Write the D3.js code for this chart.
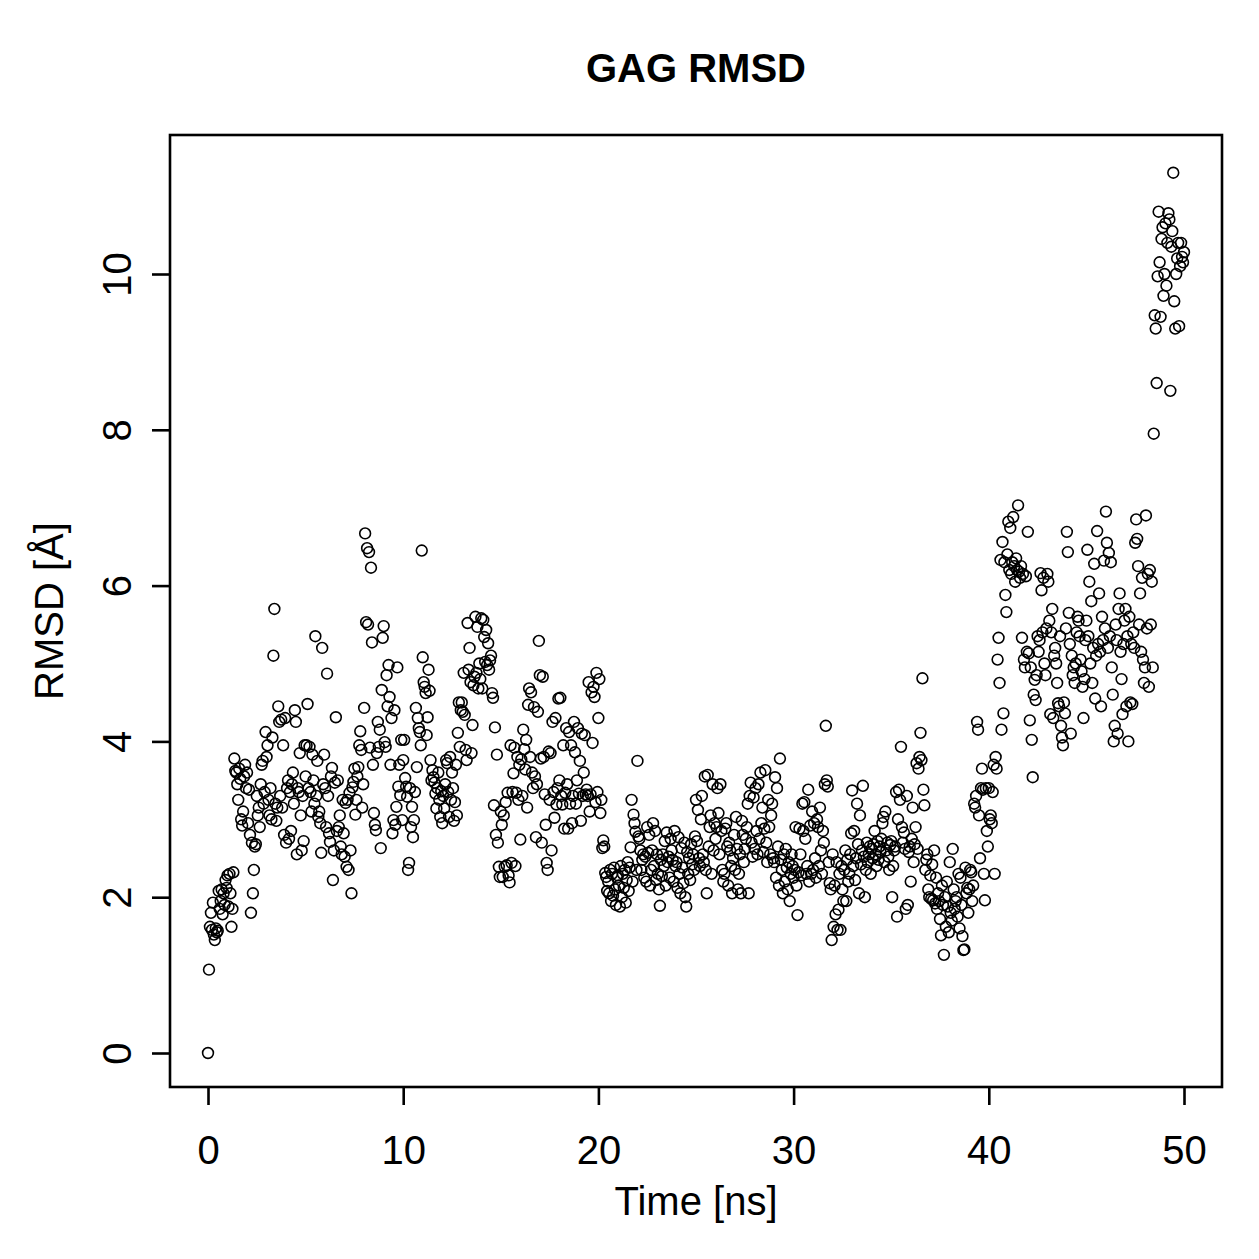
<!DOCTYPE html>
<html>
<head>
<meta charset="utf-8">
<script src="https://cdn.jsdelivr.net/npm/d3@7"></script>
<style>
  html, body { margin: 0; padding: 0; background: #fff; }
  text { font-family: "Liberation Sans", Arial, Helvetica, sans-serif; fill: #000; }
</style>
</head>
<body>
<svg id="chart" width="1259" height="1259"></svg>
<script>
// ---- Data (RMSD in Å, sampled every 0.05 ns) ----
const TIME_STEP = 0.05;
const rmsd00to05 = [
  0, 1.07, 1.62, 1.80, 1.58, 1.93, 1.52, 1.45, 1.60, 1.55, 1.57, 2.08, 1.85, 1.95, 2.10, 1.78, 2.05, 1.90, 2.22, 2.12,
  2.28, 1.88, 2.30, 2.05, 1.62, 1.85, 2.32, 3.78, 3.62, 3.60, 3.45, 3.25, 3.65, 3.52, 3.00, 2.92, 3.10, 3.55, 3.70, 3.40,
  3.60, 2.95, 3.38, 2.80, 1.80, 2.70, 2.05, 2.35, 2.65, 2.68, 3.30, 3.05, 3.15, 2.90, 3.45, 3.70, 3.75, 3.20, 3.35, 4.12,
  3.80, 3.95, 3.25, 3.05, 3.40, 3.00, 4.05, 5.10, 5.70, 3.20, 2.98, 3.15, 4.45, 4.25, 3.30, 4.28, 3.15, 3.95, 2.80, 4.30,
  2.70, 3.40, 3.50, 2.75, 3.35, 2.85, 3.45, 3.60, 3.20, 4.40, 4.25, 2.55, 3.40, 3.35, 3.85, 3.05, 2.60, 3.30, 2.72, 3.95
];
const rmsd05to10 = [
  3.55, 3.95, 4.48, 3.40, 3.93, 3.35, 3.10, 3.83, 3.50, 3.20, 5.35, 3.30, 3.75, 3.03, 3.10, 2.95, 2.57, 5.20, 3.45, 3.83,
  3.40, 2.90, 4.87, 3.30, 2.82, 2.71, 3.55, 3.66, 2.22, 2.60, 3.47, 4.31, 2.85, 3.50, 2.90, 3.05, 2.65, 2.55, 3.25, 2.82,
  2.52, 3.21, 2.39, 3.25, 2.35, 3.34, 2.60, 2.05, 3.41, 3.48, 3.65, 3.06, 3.25, 3.55, 3.67, 3.95, 4.13, 3.89, 3.15, 3.45,
  4.43, 6.67, 5.53, 6.48, 5.50, 6.43, 3.92, 6.23, 5.27, 3.70, 3.08, 2.93, 2.86, 3.85, 4.25, 3.93, 4.15, 2.63, 4.66, 5.33,
  5.48, 3.99, 3.93, 4.85, 4.45, 4.98, 4.57, 3.70, 4.30, 2.82, 2.99, 4.40, 2.93, 3.16, 4.95, 3.42, 3.70, 3.31, 4.02, 2.99
];
const rmsd10to15 = [
  3.76, 4.02, 3.53, 3.42, 3.29, 2.35, 2.44, 3.40, 2.90, 3.16, 2.77, 2.99, 3.35, 4.43, 3.67, 4.30, 4.17, 4.12, 3.95, 6.45,
  5.08, 4.76, 4.70, 4.62, 4.08, 4.31, 4.92, 4.65, 3.76, 3.50, 3.63, 3.54, 3.47, 3.33, 3.14, 3.40, 3.60, 3.25, 3.03, 3.36,
  2.95, 3.30, 3.14, 3.45, 3.76, 3.72, 3.35, 3.03, 3.80, 3.25, 3.60, 3.40, 2.98, 3.22, 3.70, 3.05, 4.11, 4.50, 3.93, 4.40,
  4.50, 4.38, 4.88, 4.34, 3.89, 3.76, 5.52, 4.92, 5.20, 4.76, 3.85, 4.21, 4.72, 4.83, 5.60, 4.88, 5.47, 4.68, 5.00, 4.80,
  5.58, 4.68, 5.56, 5.34, 5.02, 5.43, 4.98, 5.26, 4.92, 5.04, 5.10, 4.62, 4.56, 3.18, 4.18, 2.80, 3.83, 2.70, 2.39, 2.26
];
const rmsd15to20 = [
  3.10, 2.93, 2.26, 3.05, 2.39, 3.22, 2.41, 3.34, 2.28, 2.19, 3.95, 2.44, 3.35, 3.59, 3.92, 2.40, 3.34, 3.80, 3.25, 3.70,
  2.74, 3.77, 3.30, 4.15, 3.90, 3.64, 4.02, 3.15, 4.47, 4.68, 3.80, 4.63, 3.60, 3.40, 4.44, 3.55, 2.77, 3.45, 4.38, 5.29,
  4.85, 3.78, 2.70, 4.83, 3.80, 3.32, 2.93, 2.44, 2.35, 3.87, 3.25, 3.85, 2.60, 4.25, 3.35, 3.02, 4.30, 3.19, 3.40, 4.55,
  3.50, 4.56, 3.30, 3.19, 3.95, 2.88, 3.34, 4.17, 3.45, 2.88, 4.12, 3.20, 3.95, 2.95, 3.30, 4.25, 3.86, 3.20, 3.50, 4.17,
  3.33, 3.75, 2.98, 4.10, 3.30, 3.60, 4.08, 3.32, 3.38, 3.30, 4.76, 3.10, 3.32, 4.63, 3.98, 4.70, 4.57, 3.22, 4.88, 3.35
];
const rmsd20to25 = [
  4.30, 4.80, 3.08, 3.25, 2.63, 2.73, 2.65, 2.31, 2.26, 2.08, 2.20, 2.05, 2.35, 1.95, 2.30, 2.02, 2.38, 2.10, 1.90, 2.25,
  2.28, 2.15, 1.88, 2.40, 2.00, 2.30, 2.12, 2.35, 1.93, 2.22, 2.45, 2.08, 2.38, 2.64, 3.25, 2.20, 3.06, 2.95, 2.84, 2.35,
  3.75, 2.78, 2.75, 2.60, 2.35, 2.48, 2.55, 2.25, 2.52, 2.20, 2.90, 2.57, 2.80, 2.15, 2.35, 2.60, 2.95, 2.40, 2.85, 2.22,
  2.55, 2.30, 2.10, 1.89, 2.48, 2.27, 2.55, 2.40, 2.72, 2.15, 2.83, 2.45, 2.52, 2.25, 2.75, 2.60, 2.48, 2.20, 2.85, 2.40,
  2.45, 2.12, 2.77, 2.30, 2.05, 2.63, 2.38, 2.18, 2.70, 2.00, 1.88, 2.58, 2.30, 2.50, 2.22, 2.68, 2.42, 2.55, 2.35, 2.78
];
const rmsd25to30 = [
  3.25, 2.72, 3.12, 2.50, 2.40, 3.00, 3.30, 2.55, 2.45, 3.55, 2.35, 2.05, 3.57, 2.65, 2.90, 3.05, 2.30, 3.45, 2.60, 2.95,
  2.75, 2.90, 3.40, 3.08, 2.55, 3.45, 2.85, 2.35, 2.20, 2.30, 2.88, 2.95, 2.65, 2.15, 2.70, 2.60, 2.40, 2.05, 2.50, 2.80,
  2.35, 3.03, 2.62, 2.10, 2.30, 2.55, 2.05, 2.98, 2.80, 2.45, 2.62, 2.75, 2.90, 3.20, 2.05, 3.30, 3.47, 2.70, 2.52, 3.28,
  2.62, 3.40, 2.85, 2.55, 3.45, 2.75, 3.60, 2.95, 3.15, 2.58, 2.88, 3.63, 2.70, 2.45, 3.25, 2.90, 2.55, 3.05, 3.20, 2.50,
  2.45, 3.54, 2.25, 3.40, 2.65, 2.15, 3.78, 2.48, 2.35, 2.05, 2.55, 2.20, 2.62, 2.38, 2.10, 2.45, 1.95, 2.30, 2.55, 2.40
];
const rmsd30to35 = [
  2.25, 2.35, 2.90, 2.15, 1.77, 2.32, 2.88, 2.55, 2.28, 3.20, 2.85, 3.22, 2.75, 2.30, 2.40, 3.38, 2.20, 2.92, 2.30, 3.10,
  2.35, 2.95, 2.50, 2.25, 3.00, 2.90, 2.40, 3.15, 2.60, 2.30, 2.85, 2.70, 3.45, 4.20, 3.50, 3.42, 2.45, 2.18, 2.10, 1.45,
  2.55, 1.62, 2.15, 1.78, 2.45, 1.58, 1.84, 2.30, 1.58, 2.40, 2.10, 1.95, 2.35, 2.60, 1.95, 2.48, 2.20, 2.30, 2.55, 2.82,
  3.37, 2.40, 2.85, 2.22, 2.50, 3.20, 2.68, 2.05, 3.05, 2.42, 2.60, 3.43, 2.52, 2.00, 2.35, 2.70, 2.45, 2.55, 2.65, 2.30,
  2.62, 2.50, 2.68, 2.85, 2.55, 2.40, 2.72, 2.48, 2.65, 2.58, 2.75, 2.95, 3.03, 2.45, 3.10, 2.60, 2.70, 2.52, 2.35, 2.67
];
const rmsd35to40 = [
  2.72, 2.00, 2.40, 2.60, 2.65, 3.35, 1.75, 3.00, 3.38, 3.25, 3.93, 2.90, 2.70, 2.83, 2.62, 1.85, 3.30, 1.90, 2.58, 2.65,
  2.20, 2.75, 3.15, 2.45, 2.68, 2.90, 3.72, 2.62, 3.65, 3.80, 4.11, 3.76, 4.81, 3.38, 3.18, 2.35, 2.48, 2.55, 2.10, 2.00,
  2.28, 1.98, 2.42, 1.96, 2.60, 1.92, 2.25, 1.85, 2.05, 1.95, 1.72, 1.51, 2.15, 1.90, 1.26, 2.00, 1.62, 2.20, 1.88, 1.55,
  2.45, 1.80, 1.70, 2.62, 2.10, 1.85, 1.95, 2.00, 1.75, 2.30, 1.60, 2.25, 1.90, 1.50, 1.32, 1.33, 2.38, 2.05, 2.12, 1.80,
  2.10, 2.35, 2.32, 1.95, 2.15, 3.20, 3.15, 3.30, 4.25, 4.15, 3.05, 2.50, 3.40, 3.65, 3.38, 2.30, 1.96, 3.40, 2.85, 2.65
];
const rmsd40to45 = [
  3.40, 3.00, 3.05, 2.95, 3.35, 3.70, 2.30, 3.80, 3.65, 5.05, 5.33, 4.75, 6.33, 4.15, 6.56, 4.36, 6.30, 5.88, 5.66, 6.40,
  6.82, 6.20, 6.74, 6.15, 6.30, 6.88, 6.25, 6.05, 6.35, 6.20, 7.03, 6.18, 6.10, 6.25, 5.33, 6.15, 5.05, 4.95, 6.12, 5.15,
  6.69, 5.13, 4.27, 4.95, 4.02, 3.54, 4.60, 4.79, 4.53, 4.85, 5.35, 5.15, 5.30, 6.16, 5.94, 5.40, 6.10, 5.00, 4.85, 5.45,
  6.15, 6.05, 5.55, 4.35, 5.40, 5.70, 4.30, 5.10, 5.20, 5.00, 4.75, 4.49, 4.45, 5.35, 4.20, 4.05, 3.95, 4.50, 4.36, 5.45,
  6.69, 6.43, 5.65, 5.25, 4.10, 5.10, 4.85, 4.95, 4.75, 5.00, 5.40, 5.60, 5.55, 5.35, 5.05, 4.90, 4.70, 4.30, 4.80, 5.30
];
const rmsd45to50 = [
  5.55, 6.46, 5.35, 6.05, 5.00, 5.80, 4.75, 5.20, 6.28, 4.55, 5.10, 6.70, 5.25, 5.90, 5.15, 4.45, 5.60, 5.30, 6.32, 5.45,
  6.95, 6.55, 5.20, 6.42, 5.35, 6.30, 4.95, 4.60, 4.00, 4.20, 5.50, 5.30, 4.10, 5.70, 5.90, 5.15, 4.80, 4.35, 5.25, 5.55,
  5.70, 4.45, 5.35, 4.00, 5.60, 4.50, 5.25, 4.48, 5.40, 5.20, 6.55, 6.85, 6.60, 6.25, 5.50, 5.90, 5.15, 6.10, 5.05, 4.75,
  4.95, 6.90, 5.45, 6.15, 4.70, 6.20, 5.50, 6.05, 4.95, 7.95, 9.47, 9.30, 8.60, 9.97, 10.80, 10.15, 9.45, 10.45, 10.60, 9.72,
  10.00, 10.65, 9.85, 10.40, 10.78, 10.70, 8.50, 10.35, 10.55, 11.30, 9.65, 9.30, 10.00, 10.20, 10.40, 9.33, 10.10, 10.40, 10.22, 10.15,
  10.28
];
const xTicks = [0, 10, 20, 30, 40, 50];
const yTicks = [0, 2, 4, 6, 8, 10];
const titleText = "GAG RMSD";
const xLabelText = "Time [ns]";
const yLabelText = "RMSD [Å]";

const rmsd = [].concat(rmsd00to05, rmsd05to10, rmsd10to15, rmsd15to20, rmsd20to25,
                       rmsd25to30, rmsd30to35, rmsd35to40, rmsd40to45, rmsd45to50);
const points = rmsd.map((v, i) => ({ t: +(i * TIME_STEP).toFixed(2), v }));

// ---- Layout ----
const svg = d3.select("#chart");
svg.append("rect").attr("width", 1259).attr("height", 1259).attr("fill", "#fff");

const box = { left: 170, right: 1222, top: 135, bottom: 1087 };
const x = d3.scaleLinear().domain([0, 50]).range([208, 1184]);
const y = d3.scaleLinear().domain([0, 10]).range([1053, 274]);

const LW = 2.6;
const FS = 40;

// points
svg.append("g")
  .selectAll("circle")
  .data(points)
  .join("circle")
  .attr("cx", d => x(d.t))
  .attr("cy", d => y(d.v))
  .attr("r", 5.4)
  .attr("fill", "none")
  .attr("stroke", "#000")
  .attr("stroke-width", 1.6);

// box
svg.append("rect")
  .attr("x", box.left).attr("y", box.top)
  .attr("width", box.right - box.left).attr("height", box.bottom - box.top)
  .attr("fill", "none").attr("stroke", "#000").attr("stroke-width", LW);

// x axis
const gx = svg.append("g")
  .attr("transform", `translate(0,${box.bottom})`)
  .call(d3.axisBottom(x).tickValues(xTicks).tickSize(18).tickSizeOuter(0).tickFormat(d3.format("d")));
gx.select(".domain").remove();
gx.selectAll(".tick line").attr("stroke", "#000").attr("stroke-width", LW);
gx.selectAll(".tick text")
  .attr("y", 77).attr("dy", 0)
  .attr("font-size", FS)
  .attr("font-family", "Liberation Sans, Arial, Helvetica, sans-serif")
  .attr("fill", "#000");

// y axis
const gy = svg.append("g")
  .attr("transform", `translate(${box.left},0)`)
  .call(d3.axisLeft(y).tickValues(yTicks).tickSize(18).tickSizeOuter(0).tickFormat(d3.format("d")));
gy.select(".domain").remove();
gy.selectAll(".tick line").attr("stroke", "#000").attr("stroke-width", LW);
gy.selectAll(".tick text")
  .attr("transform", "rotate(-90)")
  .attr("x", 0).attr("y", -39).attr("dy", 0)
  .attr("text-anchor", "middle")
  .attr("font-size", FS)
  .attr("font-family", "Liberation Sans, Arial, Helvetica, sans-serif")
  .attr("fill", "#000");

// title
svg.append("text")
  .attr("x", (box.left + box.right) / 2).attr("y", 82)
  .attr("text-anchor", "middle")
  .attr("font-size", FS).attr("font-weight", "bold")
  .text(titleText);

// x label
svg.append("text")
  .attr("x", (box.left + box.right) / 2).attr("y", 1215)
  .attr("text-anchor", "middle")
  .attr("font-size", FS)
  .text(xLabelText);

// y label
svg.append("text")
  .attr("transform", `translate(63,${(box.top + box.bottom) / 2}) rotate(-90)`)
  .attr("text-anchor", "middle")
  .attr("font-size", FS)
  .text(yLabelText);
</script>
</body>
</html>
